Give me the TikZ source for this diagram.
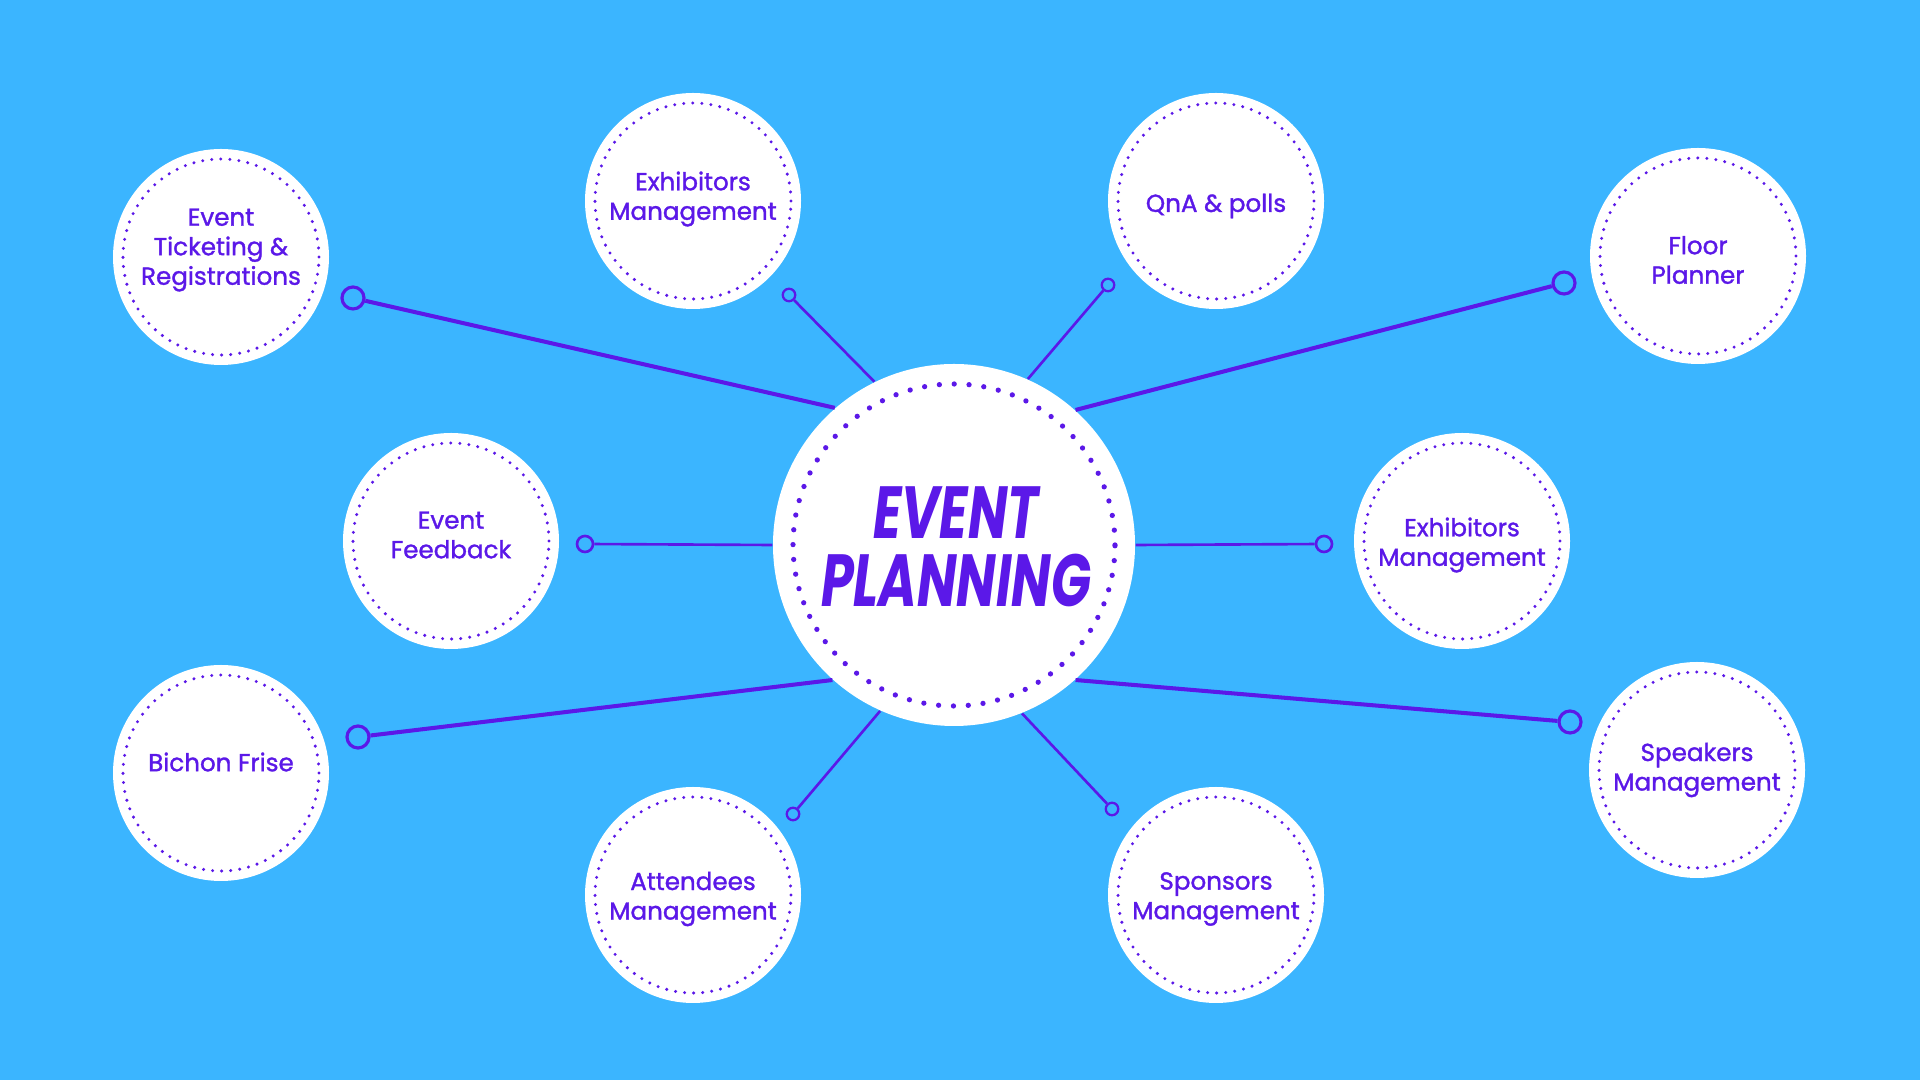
\documentclass[tikz,border=0pt]{standalone}
\usepackage{fontspec}
\setmainfont{Poppins}[FakeBold=1.3]
\newfontfamily\hubfont{Poppins}[FakeStretch=0.71, BoldFeatures={FakeBold=1.5}]
\definecolor{skyblue}{RGB}{59,181,255}
\definecolor{ink}{RGB}{91,24,232}

\begin{document}
\begin{tikzpicture}[
    topic/.style={circle, fill=white, minimum size=2.16cm, inner sep=0pt},
    topictext/.style={align=center, text=ink, inner sep=0pt, font=\fontsize{7}{8.4}\selectfont},
    hubring/.style={ink, line width=1.5pt, line cap=round, dash pattern=on 0pt off 4.23pt},
    topicring/.style={ink, line width=0.95pt, line cap=round, dash pattern=on 0pt off 2.58pt},
    bigspoke/.style={ink, line width=1.15pt},
    thinspoke/.style={ink, line width=0.75pt},
    bigend/.style={circle, draw=ink, line width=0.9pt, fill=skyblue, minimum size=2.2mm, inner sep=0pt},
    midend/.style={circle, draw=ink, line width=0.75pt, fill=skyblue, minimum size=1.6mm, inner sep=0pt},
    smallend/.style={circle, draw=ink, line width=0.65pt, fill=skyblue, minimum size=1.25mm, inner sep=0pt}
]
    \useasboundingbox (0, 0) rectangle (19.2, 10.8);
    \fill[skyblue] (0, 0) rectangle (19.2, 10.8);

    % hub
    \node[circle, fill=white, minimum size=3.62cm, inner sep=0pt] (hub) at (9.54, 5.35) {};
    \draw[hubring] (hub) circle (1.61);
    \node[text=ink, align=center, inner sep=0pt, font=\hubfont\fontsize{21}{19.5}\selectfont\bfseries\itshape]
        (hubtext) at (9.56, 5.33) {EVENT\\PLANNING};

    % topics
    \node[topic] (ticket)   at (2.21, 8.23)  {};
    \node[topic] (exhtop)   at (6.93, 8.79)  {};
    \node[topic] (qna)      at (12.16, 8.79) {};
    \node[topic] (floor)    at (16.98, 8.24) {};
    \node[topic] (feedback) at (4.51, 5.39)  {};
    \node[topic] (exhright) at (14.62, 5.39) {};
    \node[topic] (bichon)   at (2.21, 3.07)  {};
    \node[topic] (attend)   at (6.93, 1.85)  {};
    \node[topic] (sponsor)  at (12.16, 1.85) {};
    \node[topic] (speaker)  at (16.97, 3.10) {};
    \foreach \t in {ticket, exhtop, qna, floor, feedback, exhright, bichon, attend, sponsor, speaker}
        \draw[topicring] (\t) circle (0.98);

    % topic labels
    \node[topictext] at ([yshift=0.7mm]ticket.center)    {Event\\Ticketing \&\\Registrations};
    \node[topictext] at ([yshift=0.2mm]exhtop.center)    {Exhibitors\\Management};
    \node[topictext] at ([yshift=-0.5mm]qna.center)      {QnA \& polls};
    \node[topictext] at ([yshift=-0.4mm]floor.center)    {Floor\\Planner};
    \node[topictext] at ([yshift=0.6mm]feedback.center)  {Event\\Feedback};
    \node[topictext] at ([yshift=-0.4mm]exhright.center) {Exhibitors\\Management};
    \node[topictext] at ([yshift=1.1mm]bichon.center)    {Bichon Frise};
    \node[topictext] at ([yshift=-0.4mm]attend.center)   {Attendees\\Management};
    \node[topictext] at ([yshift=-0.4mm]sponsor.center)  {Sponsors\\Management};
    \node[topictext] at (speaker.center)                 {Speakers\\Management};

    % spoke ends
    \node[bigend]   (endtl)  at (3.53, 7.82)  {};
    \node[bigend]   (endtr)  at (15.64, 7.97) {};
    \node[bigend]   (endbl)  at (3.58, 3.43)  {};
    \node[bigend]   (endbr)  at (15.70, 3.58) {};
    \node[midend]   (endl)   at (5.85, 5.36)  {};
    \node[midend]   (endr)   at (13.24, 5.36) {};
    \node[smallend] (endtml) at (7.89, 7.85)  {};
    \node[smallend] (endtmr) at (11.08, 7.95) {};
    \node[smallend] (endbml) at (7.93, 2.66)  {};
    \node[smallend] (endbmr) at (11.12, 2.71) {};

    % spokes
    \draw[bigspoke] (hub.131) -- (endtl);
    \draw[bigspoke] (hub.48) -- (endtr);
    \draw[bigspoke] (hub.228) -- (endbl);
    \draw[bigspoke] (hub.312) -- (endbr);
    \draw[thinspoke] (hub.180) -- (endl);
    \draw[thinspoke] (hub.0) -- (endr);
    \draw[thinspoke] (hub.116) -- (endtml);
    \draw[thinspoke] (hub.66) -- (endtmr);
    \draw[thinspoke] (hub.246) -- (endbml);
    \draw[thinspoke] (hub.292) -- (endbmr);
\end{tikzpicture}
\end{document}
